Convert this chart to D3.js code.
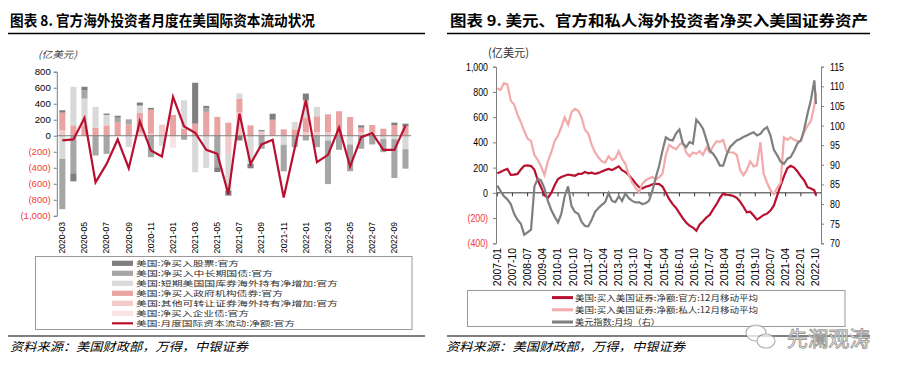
<!DOCTYPE html>
<html><head><meta charset="utf-8">
<script src="https://cdn.jsdelivr.net/npm/d3@7"></script>
<style>body{margin:0;background:#fff}svg{display:block}</style>
</head><body><svg id="c" width="899" height="377"></svg>
<script>
// ---------------- LEFT CHART DATA ----------------
const leftMonths = ["2020-03","2020-04","2020-05","2020-06","2020-07","2020-08","2020-09","2020-10","2020-11","2020-12",
  "2021-01","2021-02","2021-03","2021-04","2021-05","2021-06","2021-07","2021-08","2021-09","2021-10","2021-11","2021-12",
  "2022-01","2022-02","2022-03","2022-04","2022-05","2022-06","2022-07","2022-08","2022-09","2022-10"];
const leftTickLabels = ["2020-03","2020-05","2020-07","2020-09","2020-11","2021-01","2021-03","2021-05","2021-07","2021-09","2021-11","2022-01","2022-03","2022-05","2022-07","2022-09"];
const equity        = [29,-100,42,0,17,25,0,38,21,0,0,0,511,25,-59,-63,-59,-55,15,75,0,0,84,0,0,0,0,29,0,0,34,34];
const longTreasury  = [-628,-470,105,-247,-226,55,63,0,-268,0,0,-50,0,50,-394,0,0,0,-163,0,-331,-142,-59,-142,-545,-176,-335,-163,-109,-163,-486,-243];
const shortTreasury = [-289,482,335,260,130,0,-142,92,0,-125,0,355,-457,-402,0,-460,63,-352,0,0,-113,92,222,117,-59,0,-109,0,0,-42,-42,-168];
const agencyBonds   = [222,130,130,100,130,170,142,239,302,0,260,88,151,298,235,163,168,130,0,200,80,80,176,197,222,306,235,59,92,88,130,117];
const otherSecurities=[67,0,0,0,0,0,0,46,25,138,0,0,0,0,0,-225,297,0,55,0,0,0,45,46,46,0,0,42,42,0,0,0];
const corporateBonds= [0,0,0,0,0,0,0,0,0,0,-150,0,0,0,0,0,0,0,0,0,0,0,0,0,0,0,0,0,0,0,0,0];
const netFlow       = [-59,-46,222,-582,-352,-46,-406,180,-184,-260,486,117,38,-176,-226,-729,277,-352,-109,-50,-771,-150,444,-331,-239,100,-385,-17,34,-176,-176,126];
const leftYTicks = [800,600,400,200,0,-200,-400,-600,-800,-1000];
const leftSeriesNames = ["美国:净买入股票:官方","美国:净买入中长期国债:官方","美国:短期美国国库券海外持有净增加:官方","美国:净买入政府机构债券:官方","美国:其他可转让证券海外持有净增加:官方","美国:净买入企业债:官方","美国:月度国际资本流动:净额:官方"];

// ---------------- RIGHT CHART DATA ----------------
const rightMonths = ("2007-01 2007-03 2007-05 2007-07 2007-09 2007-11 2008-01 2008-03 2008-05 2008-07 2008-09 2008-11 " +
 "2009-01 2009-03 2009-05 2009-07 2009-09 2009-11 2010-01 2010-03 2010-05 2010-07 2010-09 2010-11 " +
 "2011-01 2011-03 2011-05 2011-07 2011-09 2011-11 2012-01 2012-03 2012-05 2012-07 2012-09 2012-11 " +
 "2013-01 2013-03 2013-05 2013-07 2013-09 2013-11 2014-01 2014-03 2014-05 2014-07 2014-09 2014-11 " +
 "2015-01 2015-03 2015-05 2015-07 2015-09 2015-11 2016-01 2016-03 2016-05 2016-07 2016-09 2016-11 " +
 "2017-01 2017-03 2017-05 2017-07 2017-09 2017-11 2018-01 2018-03 2018-05 2018-07 2018-09 2018-11 " +
 "2019-01 2019-03 2019-05 2019-07 2019-09 2019-11 2020-01 2020-03 2020-05 2020-07 2020-09 2020-11 " +
 "2021-01 2021-03 2021-05 2021-07 2021-09 2021-11 2022-01 2022-03 2022-05 2022-07 2022-09 2022-10").split(" ");
const officialMA = [156,165,180,190,142,145,150,185,215,218,212,182,100,45,-20,-40,0,60,110,125,135,145,140,135,
 150,150,165,155,160,150,158,170,180,190,180,195,210,180,165,140,110,75,45,35,48,55,68,72,
 70,50,0,-50,-90,-120,-160,-200,-235,-260,-275,-300,-250,-225,-195,-175,-130,-90,-40,-5,-15,-18,-25,-40,
 -70,-110,-155,-150,-180,-212,-195,-175,-165,-140,-100,-20,60,130,195,215,200,170,130,100,45,35,20,-20];
const privateMA = [829,815,870,860,730,700,620,560,490,430,410,300,260,210,140,250,320,410,455,520,600,540,640,665,
 650,600,500,470,380,320,280,250,240,290,260,275,330,270,230,140,80,40,5,70,100,115,125,105,
 125,150,300,380,360,345,380,400,320,290,320,310,330,300,360,320,370,410,405,420,330,320,320,300,
 180,140,180,250,210,220,400,150,80,20,-10,40,80,440,420,440,420,410,410,480,530,570,690,790];
const dollarIndex = [84.7,83.3,82.0,81.2,80.0,77.5,76.0,75.0,72.2,72.8,73.5,84.5,86.5,86.0,84.0,80.8,78.5,76.8,75.3,77.5,82.0,84.5,79.5,78.0,
 77.5,75.5,74.4,74.3,76.0,78.0,79.0,79.8,80.5,82.8,80.8,80.5,82.0,80.8,82.7,81.5,80.8,80.4,80.5,80.0,80.2,80.8,83.4,86.8,
 89.8,93.6,97.0,96.4,96.2,98.0,99.0,95.5,94.5,95.8,95.4,101.5,100.5,99.2,96.5,93.6,92.8,91.5,89.8,89.8,92.5,94.5,95.4,96.2,
 96.6,97.1,97.5,97.9,98.3,97.5,97.9,99.0,99.6,97.5,93.8,92.4,90.8,90.2,91.5,92.0,93.6,95.5,96.2,99.0,103.0,106.5,111.5,105.5];
const rightXTickLabels = ["2007-01","2007-10","2008-07","2009-04","2010-01","2010-10","2011-07","2012-04","2013-01","2013-10","2014-07",
 "2015-04","2016-01","2016-10","2017-07","2018-04","2019-01","2019-10","2020-07","2021-04","2022-01","2022-10"];
const rightYTicks = [1000,800,600,400,200,0,-200,-400];
const rightY2Ticks = [115,110,105,100,95,90,85,80,75,70];
const rightSeriesNames = ["美国:买入美国证券:净额:官方:12月移动平均","美国:买入美国证券:净额:私人:12月移动平均","美元指数:月均（右）"];

// ---------------- DRAW ----------------
const svg = d3.select("#c");
svg.append("rect").attr("width",899).attr("height",377).attr("fill","#fff");
const CJK = "'Noto Sans CJK SC', sans-serif";
const NUM = "'Liberation Sans', Arial, sans-serif";
const fmtNum = v => v < 0 ? "(" + d3.format(",")(-v) + ")" : d3.format(",")(v);
const NEG = "#f03c3c";

function txt(x, y, s, o) {
  const t = svg.append("text").attr("x", x).attr("y", y).text(s)
    .attr("font-family", o.ff || CJK).attr("font-size", o.fs).attr("fill", o.fill || "#000");
  if (o.fw) t.attr("font-weight", o.fw);
  if (o.fst) t.attr("font-style", o.fst);
  if (o.len) t.attr("textLength", o.len).attr("lengthAdjust", "spacingAndGlyphs");
  if (o.anchor) t.attr("text-anchor", o.anchor);
  return t;
}

// Titles and rules
txt(10, 26, "图表 8. 官方海外投资者月度在美国际资本流动状况", {fs:14.5, fw:700, len:305});
txt(450, 26, "图表 9. 美元、官方和私人海外投资者净买入美国证券资产", {fs:14.5, fw:700, len:418});
[[8,425],[447,870]].forEach(([a,b]) => {
  svg.append("line").attr("x1",a).attr("x2",b).attr("y1",33.5).attr("y2",33.5).attr("stroke","#000").attr("stroke-width",1.5);
  svg.append("line").attr("x1",a).attr("x2",b).attr("y1",336).attr("y2",336).attr("stroke","#000").attr("stroke-width",1.2);
});
txt(10, 351, "资料来源：美国财政部，万得，中银证券", {fs:12, fst:"italic", len:238});
txt(446, 351, "资料来源：美国财政部，万得，中银证券", {fs:12, fst:"italic", len:239});

// ---------- Left chart ----------
const xL = d3.scaleBand().domain(leftMonths).range([56.8, 411]).paddingInner(0.45).paddingOuter(0.225);
const yL = d3.scaleLinear().domain([-1000, 800]).range([215.8, 71.7]);
const gL = svg.append("g");

const rows = leftMonths.map((m, i) => ({month:m, corp:corporateBonds[i], oth:otherSecurities[i], ag:agencyBonds[i],
  st:shortTreasury[i], lt:longTreasury[i], eq:equity[i]}));
const keys = ["corp","oth","ag","st","lt","eq"];
const colors = {eq:"#7f7f7f", lt:"#a6a6a6", st:"#d9d9d9", ag:"#e9a3a3", oth:"#f3c9c9", corp:"#f9e4e4"};
const stacked = d3.stack().keys(keys).offset(d3.stackOffsetDiverging)(rows);
stacked.forEach(s => {
  gL.append("g").selectAll("rect").data(s).join("rect")
    .attr("x", d => xL(d.data.month)).attr("width", xL.bandwidth())
    .attr("y", d => yL(Math.max(d[0], d[1]))).attr("height", d => Math.abs(yL(d[0]) - yL(d[1])))
    .attr("fill", colors[s.key]);
});
gL.append("line").attr("x1",56.8).attr("x2",411).attr("y1",yL(0)).attr("y2",yL(0)).attr("stroke","#7f7f7f").attr("stroke-width",1);
gL.append("path").datum(netFlow)
  .attr("d", d3.line().x((d,i) => xL(leftMonths[i]) + xL.bandwidth()/2).y(d => yL(d)))
  .attr("fill","none").attr("stroke","#b8102e").attr("stroke-width",2.2).attr("stroke-linejoin","miter");
const axL = gL.append("g").attr("transform","translate(56.8,0)")
  .call(d3.axisLeft(yL).tickValues(leftYTicks).tickSize(3).tickPadding(3).tickFormat(fmtNum));
axL.select(".domain").attr("stroke","#7f7f7f");
axL.selectAll(".tick line").attr("stroke","#7f7f7f");
axL.selectAll(".tick text").attr("font-family",NUM).attr("font-size",9.6)
  .attr("fill", d => d < 0 ? NEG : "#000");
leftTickLabels.forEach(m => {
  const cx = xL(m) + xL.bandwidth()/2;
  gL.append("text").attr("transform",`translate(${cx},222) rotate(-90)`).attr("dy","0.33em")
    .attr("text-anchor","end").attr("font-family",NUM).attr("font-size",8.6).attr("fill","#000").text(m);
});
txt(38, 58, "(亿美元)", {fs:9.5, fill:"#444", fst:"italic", len:39});

// legend left
svg.append("rect").attr("x",35.5).attr("y",256.5).attr("width",376.5).attr("height",73).attr("fill","#fff").attr("stroke","#9a9a9a");
const legKeys = ["eq","lt","st","ag","oth","corp"];
const legLens = [103,137,202,147,202,113,159];
leftSeriesNames.forEach((n, i) => {
  const cy = 263.3 + i*10;
  if (i < 6) svg.append("rect").attr("x",112).attr("y",cy-2.6).attr("width",21).attr("height",5.2).attr("fill",colors[legKeys[i]]);
  else svg.append("line").attr("x1",112).attr("x2",133).attr("y1",cy).attr("y2",cy).attr("stroke","#b8102e").attr("stroke-width",2.2);
  txt(136, cy+2.6, n, {fs:6.8, fill:"#333", len:legLens[i]});
});

// ---------- Right chart ----------
const parse = d3.timeParse("%Y-%m");
const xR = d3.scaleTime().domain([parse("2007-01"), parse("2022-10")]).range([497.3, 816]);
const yR = d3.scaleLinear().domain([-400, 1000]).range([243.3, 66.7]);
const yR2 = d3.scaleLinear().domain([70, 115]).range([243.3, 66.7]);
const gR = svg.append("g");

gR.append("line").attr("x1",496).attr("x2",821).attr("y1",yR(0)).attr("y2",yR(0)).attr("stroke","#333").attr("stroke-width",1);
rightXTickLabels.forEach(m => {
  const x = xR(parse(m));
  gR.append("line").attr("x1",x).attr("x2",x).attr("y1",yR(0)).attr("y2",yR(0)+3.5).attr("stroke","#333");
  gR.append("text").attr("transform",`translate(${x},248) rotate(-90)`).attr("dy","0.33em")
    .attr("text-anchor","end").attr("font-family",NUM).attr("font-size",10.4).attr("fill","#000").text(m);
});

const lineL = d3.line().x((d,i) => xR(parse(rightMonths[i]))).y(d => yR(d));
const lineR2 = d3.line().x((d,i) => xR(parse(rightMonths[i]))).y(d => yR2(d));
gR.append("path").datum(officialMA).attr("d", lineL).attr("fill","none").attr("stroke","#b8102e").attr("stroke-width",2.2);
gR.append("path").datum(privateMA).attr("d", lineL).attr("fill","none").attr("stroke","#f2aaaa").attr("stroke-width",2.2);
gR.append("path").datum(dollarIndex).attr("d", lineR2).attr("fill","none").attr("stroke","#7f7f7f").attr("stroke-width",2.2);

const axR = gR.append("g").attr("transform","translate(496,0)")
  .call(d3.axisLeft(yR).tickValues(rightYTicks).tickSize(3).tickPadding(5).tickFormat(fmtNum));
axR.select(".domain").attr("stroke","#7f7f7f");
axR.selectAll(".tick line").attr("stroke","#7f7f7f");
axR.selectAll(".tick text").attr("font-family",NUM).attr("font-size",11).attr("fill", d => d < 0 ? NEG : "#000")
  .attr("transform","scale(0.8,1)").attr("x", -8/0.8);
const axR2 = gR.append("g").attr("transform","translate(821,0)")
  .call(d3.axisRight(yR2).tickValues(rightY2Ticks).tickSize(3).tickPadding(6));
axR2.select(".domain").attr("stroke","#7f7f7f");
axR2.selectAll(".tick line").attr("stroke","#7f7f7f");
axR2.selectAll(".tick text").attr("font-family",NUM).attr("font-size",11).attr("fill","#000")
  .attr("transform","scale(0.8,1)").attr("x", 9/0.8);
txt(488, 57, "(亿美元)", {fs:11.5, fill:"#333", len:41});

// legend right
svg.append("rect").attr("x",467.5).attr("y",290.5).attr("width",377.5).attr("height",36).attr("fill","#fff").attr("stroke","#9a9a9a");
const rColors = ["#b8102e","#f2aaaa","#7f7f7f"];
const rLens = [183,183,85];
rightSeriesNames.forEach((n, i) => {
  const cy = 297.6 + i*12.2;
  svg.append("line").attr("x1",552).attr("x2",573).attr("y1",cy).attr("y2",cy).attr("stroke",rColors[i]).attr("stroke-width",3);
  txt(575, cy+3.1, n, {fs:8.3, fill:"#333", len:rLens[i]});
});

// watermark
const wm = svg.append("g").attr("opacity",0.75);
wm.append("ellipse").attr("cx",756).attr("cy",333).attr("rx",10).attr("ry",8).attr("fill","#fff").attr("stroke","#999").attr("stroke-width",1.2);
wm.append("ellipse").attr("cx",766).attr("cy",341).attr("rx",9).attr("ry",7).attr("fill","#fff").attr("stroke","#999").attr("stroke-width",1.2);
txt(787, 346, "先澜观涛", {fs:21, fill:"#fff", len:83}).attr("stroke","#9a9a9a").attr("stroke-width",0.9);
</script></body></html>
